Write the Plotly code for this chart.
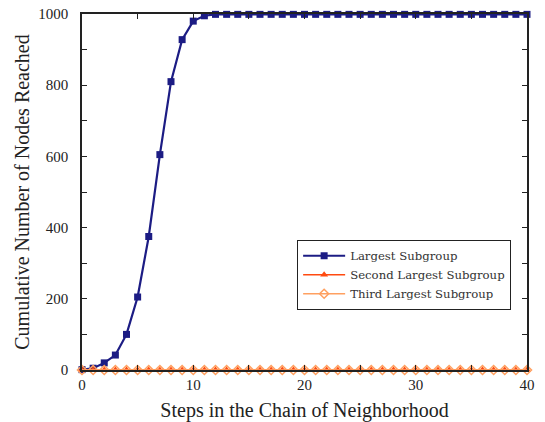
import plotly.graph_objects as go

steps = list(range(0, 41))
largest = [1, 5, 20, 42, 100, 205, 375, 605, 810, 928, 980, 995] + [999] * 29
second = [0] * 41
third = [0] * 41

x_ticks = [0, 10, 20, 30, 40]
y_ticks = [0, 200, 400, 600, 800, 1000]

FONT = "Liberation Serif, DejaVu Serif, Times New Roman, serif"
LEG_FONT = "DejaVu Serif, Liberation Serif, serif"

fig = go.Figure()
fig.add_trace(go.Scatter(x=steps, y=largest, mode="lines+markers", name="Largest Subgroup",
                         line=dict(color="#1c1c84", width=2.2),
                         marker=dict(symbol="square", size=7, color="#1c1c84"), cliponaxis=False))
fig.add_trace(go.Scatter(x=steps, y=second, mode="lines+markers", name="Second Largest Subgroup",
                         line=dict(color="#ff4a10", width=1.5),
                         marker=dict(symbol="triangle-up", size=7, color="#ff4a10"), cliponaxis=False))
fig.add_trace(go.Scatter(x=steps, y=third, mode="lines+markers", name="Third Largest Subgroup",
                         line=dict(color="#ffa060", width=1.5),
                         marker=dict(symbol="diamond-open", size=7, color="#ffa060", line=dict(width=1.5)),
                         cliponaxis=False))

fig.update_layout(
    width=545, height=422,
    margin=dict(l=82, r=18, t=14, b=52),
    plot_bgcolor="white", paper_bgcolor="white",
    font=dict(family=FONT, color="#222"),
    showlegend=True,
    legend=dict(x=0.483, y=0.365, xanchor="left", yanchor="top",
                bordercolor="#222", borderwidth=1.2, bgcolor="white",
                font=dict(size=11.7, family=LEG_FONT, color="#333"), tracegroupgap=0,
                itemwidth=42),
    xaxis=dict(range=[0, 40], tickvals=x_ticks, showgrid=False, zeroline=False, automargin=False,
               showline=True, linecolor="#222", linewidth=1.5, mirror="ticks",
               ticks="inside", ticklen=5, tickcolor="#222",
               minor=dict(dtick=5, ticks="inside", ticklen=5, tickcolor="#222"),
               tickfont=dict(size=15, family=FONT),
               title=dict(text="Steps in the Chain of Neighborhood", font=dict(size=20, family=FONT), standoff=11)),
    yaxis=dict(range=[0, 1000], tickvals=y_ticks, showgrid=False, zeroline=False, automargin=False,
               showline=True, linecolor="#222", linewidth=1.5, mirror="ticks",
               ticks="inside", ticklen=5, tickcolor="#222", ticklabelstandoff=9,
               ticklabeloverflow="allow",
               minor=dict(dtick=100, ticks="inside", ticklen=5, tickcolor="#222"),
               tickfont=dict(size=15, family=FONT),
               title=dict(text="Cumulative Number of Nodes Reached", font=dict(size=20, family=FONT), standoff=3)),
)

fig.write_html("out.html", config={"displayModeBar": False},
               post_script="document.body.style.margin='0';")
